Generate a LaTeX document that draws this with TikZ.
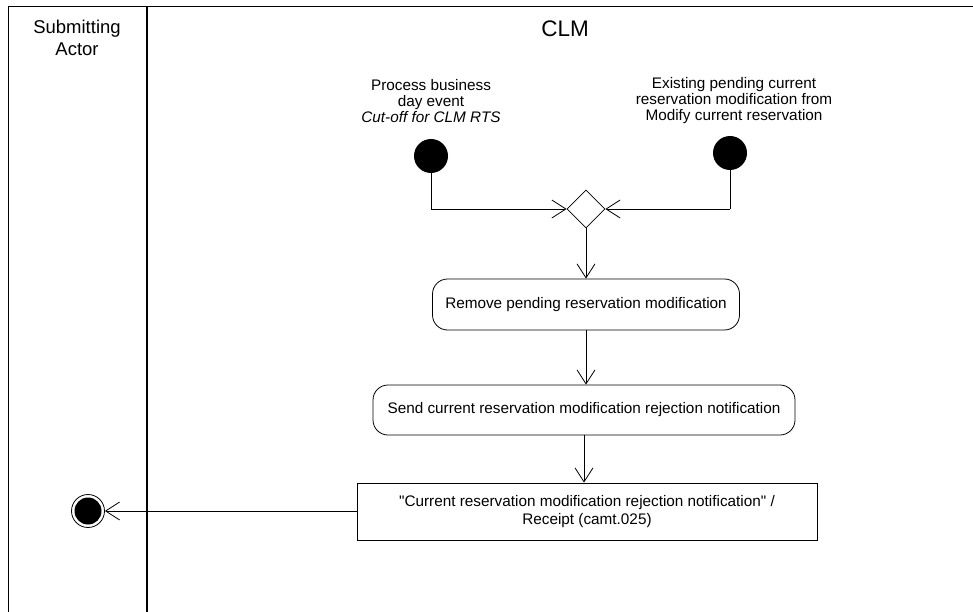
\documentclass[tikz,border=0pt]{standalone}
\usepackage{fontspec}
\setmainfont{Liberation Sans}
\usetikzlibrary{arrows.meta,shapes.geometric}
\begin{document}
\begin{tikzpicture}[x=1pt,y=-1pt,
  lbl/.style={font=\fontsize{15.3}{16}\selectfont, align=center, inner sep=0pt},
  startnode/.style={circle, fill=black, minimum size=34pt, inner sep=0pt},
  act/.style={draw, rounded corners=15pt, font=\fontsize{15.3}{16}\selectfont, inner sep=0pt, line width=0.8pt},
  objbox/.style={draw, font=\fontsize{15.3}{18}\selectfont, align=center, inner sep=0pt, line width=0.8pt},
  flow/.style={line width=0.8pt, -{Straight Barb[length=14pt,width=18pt,line width=0.8pt]}},
  line/.style={line width=0.8pt}
]
\useasboundingbox (0,0) rectangle (973,612);
\fill[white] (0,0) rectangle (973,612);
% frame
\draw[line width=1pt] (8,612) -- (8,7) -- (973,7);
\draw[line width=2pt] (147,7) -- (147,612);
\node[lbl, font=\fontsize{18.5}{22}\selectfont] (laneA) at (77,38) {Submitting\\Actor};
\node[lbl, font=\fontsize{22.5}{24}\selectfont] (laneB) at (565,29) {CLM};
% start nodes
\node[lbl] (t1) at (431,101) {Process business\\day event\\\textit{Cut-off for CLM RTS}};
\node[lbl] (t2) at (734,101) {Existing pending current\\reservation modification from\\Modify current reservation};
\node[startnode] (s1) at (431,156) {};
\node[startnode] (s2) at (730,153) {};
\node[diamond, draw, line width=0.8pt, minimum width=38pt, minimum height=38pt, inner sep=0pt] (d) at (586,209) {};
\coordinate (c1) at (431,209);
\coordinate (c2) at (730,209);
\draw[line] (s1) -- (c1);
\draw[flow] (c1) -- (d.west);
\draw[line] (s2) -- (c2);
\draw[flow] (c2) -- (d.east);
% activities
\node[act, minimum width=307pt, minimum height=51pt] (a1) at (586,304.5) {Remove pending reservation modification};
\node[act, minimum width=422pt, minimum height=50pt] (a2) at (584,410) {Send current reservation modification rejection notification};
\node[objbox, minimum width=460pt, minimum height=57pt] (o) at (587,511.5) {\textquotedbl Current reservation modification rejection notification\textquotedbl{} /\\Receipt (camt.025)};
\draw[flow] (d.south) -- (d.south |- a1.north);
\draw[flow] (a1.south) -- (a1.south |- a2.north);
\draw[flow] (a2.south) -- (a2.south |- o.north);
% final node
\node[circle, draw, line width=0.8pt, minimum size=33pt, inner sep=0pt] (f) at (88,511) {};
\fill (f.center) circle (13.5pt);
\draw[flow] (o.west |- f.east) -- (f.east);
\end{tikzpicture}
\end{document}
